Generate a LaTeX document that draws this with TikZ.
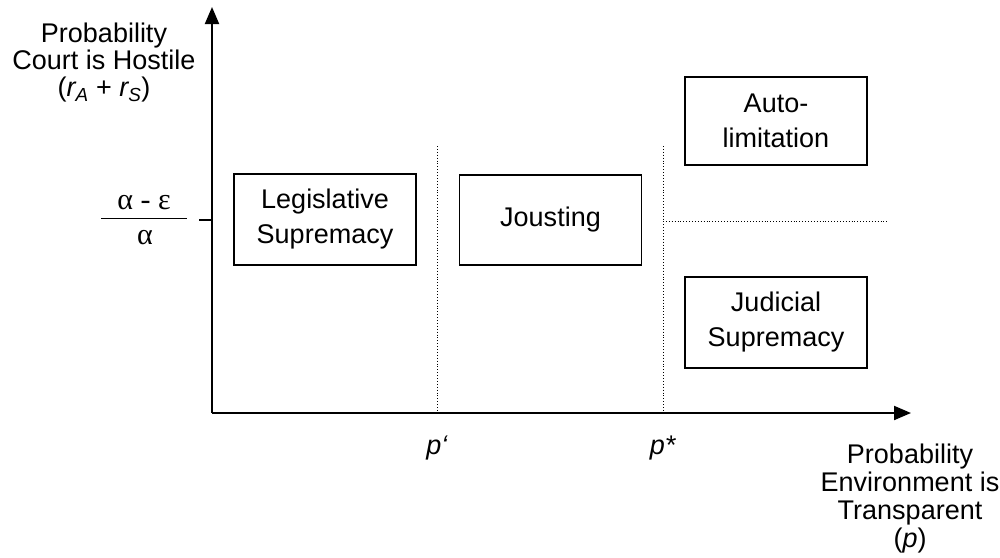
\documentclass[tikz,border=0pt]{standalone}
\usepackage{fontspec}
\setmainfont{Liberation Sans}
\newfontfamily\grk{Liberation Serif}
\usetikzlibrary{arrows.meta}
\tikzset{
  axis/.style={line width=2pt, -{Triangle[length=17pt,width=14pt]}},
  guide/.style={line width=0.9pt, dotted},
  regime/.style={draw, line width=1.5pt, rectangle, align=center, inner sep=0pt,
    minimum width=182pt, font=\fontsize{27}{35}\selectfont},
  lbl/.style={align=center, inner sep=0pt, font=\fontsize{27}{27}\selectfont},
  frac/.style={inner sep=0pt, font=\fontsize{30}{30}\selectfont\grk},
}
\begin{document}
\begin{tikzpicture}[x=1pt, y=-1pt]
\useasboundingbox (0,0) rectangle (1000,557);
% axes
\coordinate (O) at (212,413);
\coordinate (ytop) at (212,7);
\coordinate (xend) at (911,413);
\draw[axis] (O) -- (ytop);
\draw[axis] (O) -- (xend);
% threshold guides
\coordinate (p1top) at (437,146);
\coordinate (p1bot) at (437,413);
\coordinate (p2top) at (663,146);
\coordinate (p2bot) at (663,413);
\coordinate (hl) at (663,221);
\coordinate (hr) at (888,221);
\draw[guide] (p1top) -- (p1bot);
\draw[guide] (p2top) -- (p2bot);
\draw[guide] (hl) -- (hr);
% tick on the vertical axis
\coordinate (tk) at (199,220);
\coordinate (tkax) at (212,220);
\draw[line width=1.3pt] (tk) -- (tkax);
% regime boxes
\node[regime, minimum height=91pt] (leg) at (325,219.5) {Legislative\\Supremacy};
\node[regime, minimum height=90pt] (jst) at (550.5,220) {Jousting};
\node[regime, minimum height=88pt] (aut) at (776,121) {Auto-\\limitation};
\node[regime, minimum height=91pt] (jud) at (776,322.5) {Judicial\\Supremacy};
% axis labels
\node[lbl] (ylab) at (104,63) {Probability\\Court is Hostile\\(\textit{r\textsubscript{A}} + \textit{r\textsubscript{S}})};
\node[lbl, font=\fontsize{27}{28}\selectfont] (xlab) at (910,499) {Probability\\Environment is\\Transparent\\(\textit{p})};
\node[lbl, anchor=base] (pa) at (437,454) {\textit{p\char"60}};
\node[lbl, anchor=base] (pb) at (663,454) {\textit{p*}};
% threshold on the vertical axis
\node[frac, anchor=base] (num) at (144,209) {α - ε};
\node[frac, anchor=base] (den) at (145,244) {α};
\coordinate (fl) at (101,218);
\coordinate (fr) at (187,218);
\draw[line width=1pt] (fl) -- (fr);
\end{tikzpicture}
\end{document}
